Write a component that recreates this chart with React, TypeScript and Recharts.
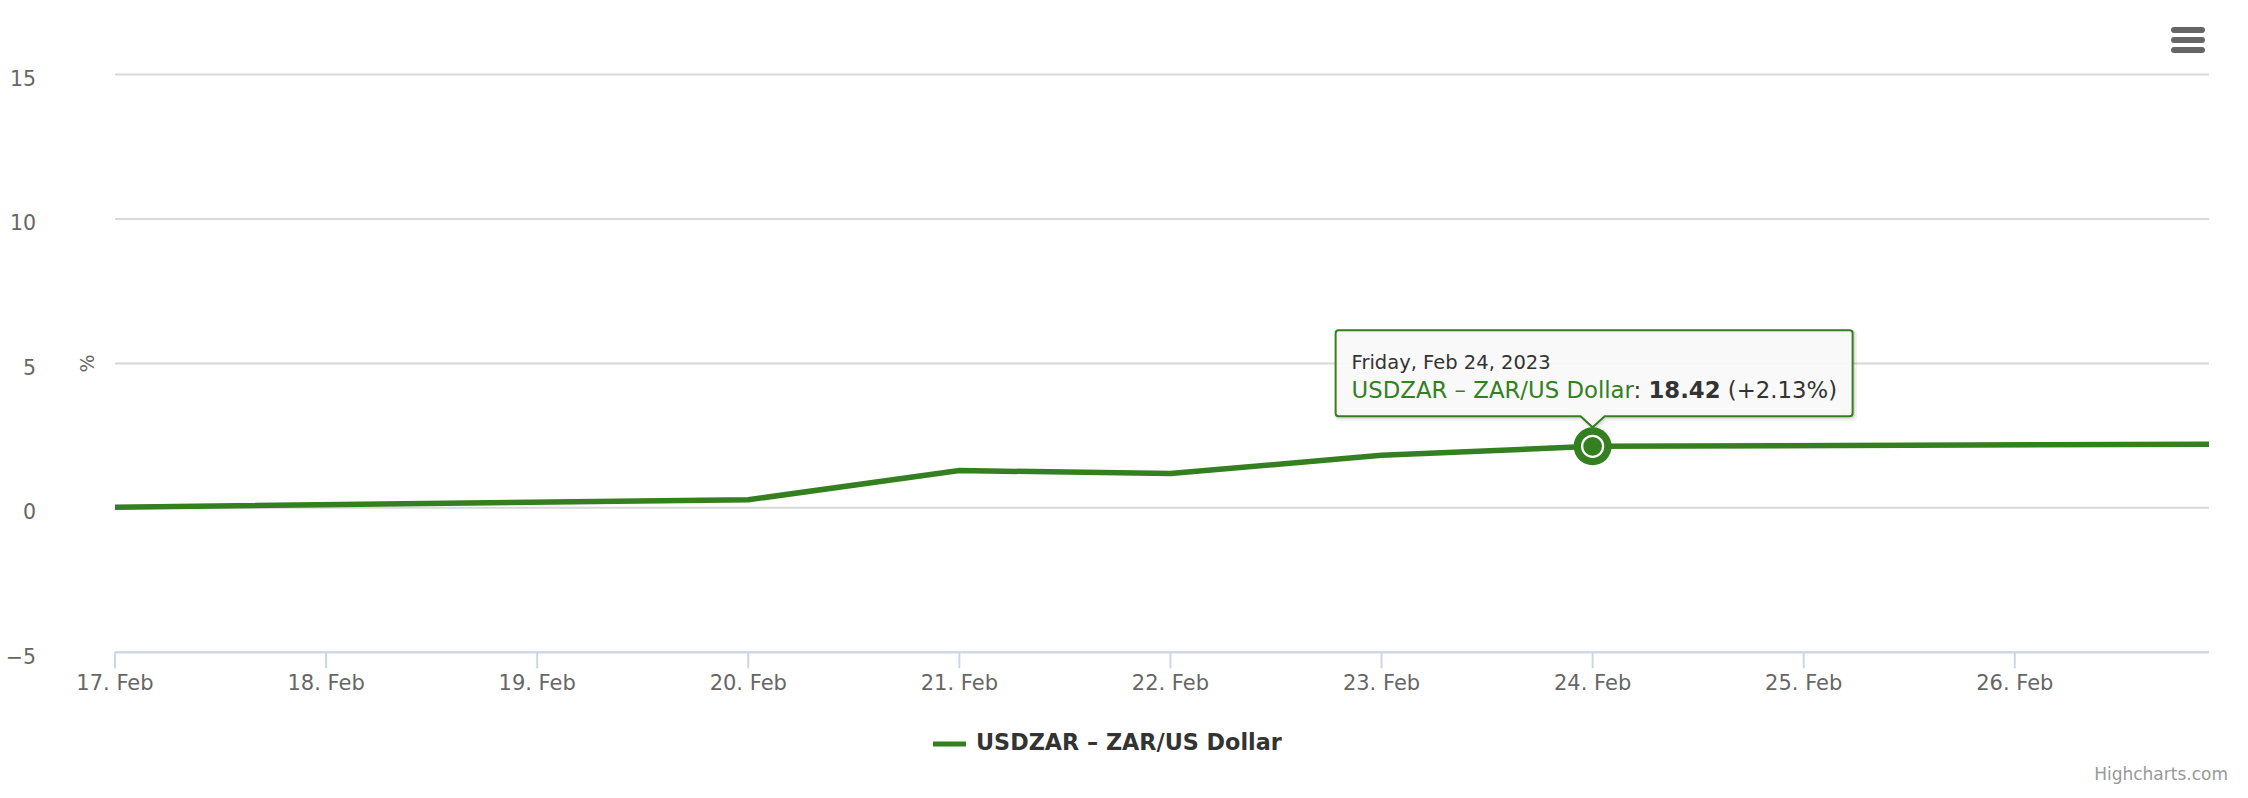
import { LineChart, Line, XAxis, YAxis, CartesianGrid, ReferenceDot, Legend, Label } from 'recharts';

// day of February 2023 -> % change vs. start (compare mode)
const days = [17, 20, 21, 22, 23, 24, 26.92];
const changePct = [0.02, 0.28, 1.29, 1.19, 1.82, 2.13, 2.2];

const xTicks = [17, 18, 19, 20, 21, 22, 23, 24, 25, 26];
const yTicks = [-5, 0, 5, 10, 15];

const seriesName = 'USDZAR \u2013 ZAR/US Dollar';
const hoverDay = 24;
const hoverChange = 2.13;
const hoverDate = 'Friday, Feb 24, 2023';
const hoverPrice = '18.42';
const hoverChangeLabel = '(+2.13%)';

const GREEN = '#347f1f';
const FONT = '"DejaVu Sans", Verdana, Arial, sans-serif';

const data = days.map((d, i) => ({ day: d, value: changePct[i] }));

const HoverTooltip = (props: any) => {
  const { cx, cy } = props;
  if (cx == null || cy == null) return null;
  const left = cx - 257;
  const right = cx + 260;
  const top = cy - 116;
  const bottom = cy - 30;
  const r = 3;
  const apex = cy - 19;
  const d = [
    `M ${left + r} ${top}`,
    `L ${right - r} ${top}`,
    `Q ${right} ${top} ${right} ${top + r}`,
    `L ${right} ${bottom - r}`,
    `Q ${right} ${bottom} ${right - r} ${bottom}`,
    `L ${cx + 12} ${bottom}`,
    `L ${cx} ${apex}`,
    `L ${cx - 12} ${bottom}`,
    `L ${left + r} ${bottom}`,
    `Q ${left} ${bottom} ${left} ${bottom - r}`,
    `L ${left} ${top + r}`,
    `Q ${left} ${top} ${left + r} ${top}`,
    'Z',
  ].join(' ');
  return (
    <g>
      <path d={d} transform="translate(2 2)" fill="none" stroke="rgba(0,0,0,0.06)" strokeWidth={5} />
      <path d={d} transform="translate(1 1)" fill="none" stroke="rgba(0,0,0,0.08)" strokeWidth={3} />
      <path d={d} fill="rgba(248,248,248,0.92)" stroke={GREEN} strokeWidth={2} />
      <text x={left + 16} y={top + 39} fontFamily={FONT} fontSize={19.5} fill="#333">
        {hoverDate}
      </text>
      <text x={left + 16} y={top + 68} fontFamily={FONT} fontSize={22.8} fill="#333">
        <tspan fill={GREEN}>{seriesName}</tspan>
        <tspan>: </tspan>
        <tspan fontWeight="bold">{hoverPrice}</tspan>
        <tspan> {hoverChangeLabel}</tspan>
      </text>
      <circle cx={cx} cy={cy} r={19} fill={GREEN} />
      <circle cx={cx} cy={cy} r={10.5} fill={GREEN} stroke="#fff" strokeWidth={2.2} />
    </g>
  );
};

const LegendContent = () => (
  <div style={{ position: 'relative', height: 40, fontFamily: FONT }}>
    <svg width={34} height={10} style={{ position: 'absolute', left: 933, top: 14 }}>
      <line x1={0} y1={5} x2={33} y2={5} stroke={GREEN} strokeWidth={5} />
    </svg>
    <span
      style={{
        position: 'absolute',
        left: 976,
        top: 4,
        fontSize: 22.3,
        fontWeight: 'bold',
        color: '#333',
        whiteSpace: 'nowrap',
      }}
    >
      {seriesName}
    </span>
  </div>
);

export default function App() {
  return (
    <div style={{ position: 'absolute', left: 0, top: 0, width: 2248, height: 798, background: '#fff' }}>
      <LineChart
        width={2248}
        height={798}
        data={data}
        margin={{ top: 74.5, right: 39, bottom: 95.7, left: 35 }}
      >
        <CartesianGrid horizontal vertical={false} stroke="#d8d8d8" strokeWidth={2} />
        <XAxis
          dataKey="day"
          type="number"
          domain={[17, 26.92]}
          allowDataOverflow
          ticks={xTicks}
          interval={0}
          tickFormatter={(v: number) => `${v}. Feb`}
          height={50}
          tickSize={16}
          tickMargin={7}
          axisLine={{ stroke: '#ccd6eb', strokeWidth: 2 }}
          tickLine={{ stroke: '#ccd6eb', strokeWidth: 2 }}
          tick={{ fill: '#666', fontSize: 21, fontFamily: FONT }}
        />
        <YAxis
          type="number"
          domain={[-5, 15]}
          ticks={yTicks}
          interval={0}
          width={80}
          tickSize={0}
          tickMargin={79}
          axisLine={false}
          tickLine={false}
          tickFormatter={(v: number) => (v < 0 ? `\u2212${Math.abs(v)}` : `${v}`)}
          tick={{ fill: '#666', fontSize: 20.5, fontFamily: FONT, dy: 4 }}
        >
          <Label
            content={(p: any) => {
              const vb = p.viewBox || {};
              const x = (vb.x ?? 0) + 52;
              const y = (vb.y ?? 0) + (vb.height ?? 0) / 2;
              return (
                <text
                  x={x}
                  y={y}
                  transform={`rotate(-90 ${x} ${y})`}
                  textAnchor="middle"
                  dominantBaseline="central"
                  fontFamily={FONT}
                  fontSize={19}
                  fill="#666"
                >
                  %
                </text>
              );
            }}
          />
        </YAxis>
        <Legend
          layout="horizontal"
          verticalAlign="middle"
          align="center"
          content={<LegendContent />}
          wrapperStyle={{ position: 'absolute', top: 725, left: 0, width: 2248, height: 40 }}
        />
        <Line
          type="linear"
          dataKey="value"
          name={seriesName}
          stroke={GREEN}
          strokeWidth={5.5}
          dot={false}
          activeDot={false}
          isAnimationActive={false}
        />
        <ReferenceDot x={hoverDay} y={hoverChange} shape={(p: any) => <HoverTooltip {...p} />} />
      </LineChart>
      <svg width={40} height={34} style={{ position: 'absolute', left: 2168, top: 23 }}>
        {[0, 1, 2].map((i) => (
          <rect key={i} x={3} y={4 + i * 10} width={34} height={6} rx={3} fill="#666" />
        ))}
      </svg>
      <div
        style={{
          position: 'absolute',
          right: 20,
          top: 764,
          fontFamily: FONT,
          fontSize: 17,
          color: '#999',
          whiteSpace: 'nowrap',
        }}
      >
        Highcharts.com
      </div>
    </div>
  );
}
